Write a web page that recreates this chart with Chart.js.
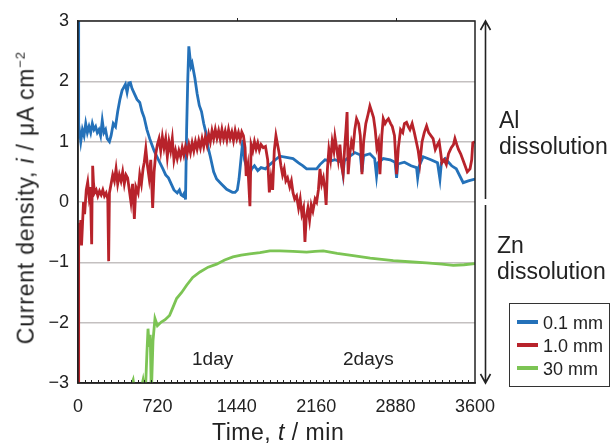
<!DOCTYPE html>
<html>
<head>
<meta charset="utf-8">
<script src="https://cdn.jsdelivr.net/npm/chart.js@4.4.0/dist/chart.umd.min.js"></script>
<style>
  html, body { margin: 0; padding: 0; background: #fff; }
  #wrap { position: relative; width: 611px; height: 444px; font-family: "Liberation Sans", Arial, sans-serif; color: #222; }
  #chart { position: absolute; left: 0; top: 0; }
  .lbl { position: absolute; white-space: nowrap; line-height: 1; }
  .note { font-size: 23px; line-height: 26px; }
  .legend { position: absolute; left: 509px; top: 303px; width: 99px; height: 82px; border: 1px solid #333; background: #fff; }
  .legend div { position: absolute; left: 7px; font-size: 18px; line-height: 1; white-space: nowrap; }
  .legend span.sw { display: inline-block; width: 21px; height: 4px; vertical-align: middle; margin-right: 5px; position: relative; top: -2px; }
</style>
</head>
<body>
<div id="wrap">
  <canvas id="chart" width="611" height="444"></canvas>

  <div class="lbl" id="ytitle" style="font-size:23px; letter-spacing:0.8px;">Current density, <i>i</i> / μA cm<sup style="font-size:13px;">−2</sup></div>
  <div class="lbl" style="left:212px; top:421px; font-size:23px; letter-spacing:0.5px;">Time, <i>t</i> / min</div>

  <div class="lbl note" style="left:499px; top:107px;">Al<br>dissolution</div>
  <div class="lbl note" style="left:497px; top:232px;">Zn<br>dissolution</div>
  <div class="lbl" style="left:192px; top:349px; font-size:19px;">1day</div>
  <div class="lbl" style="left:343px; top:349px; font-size:19px;">2days</div>

  <div class="legend" id="legend"></div>
</div>

<script>
// x axis ticks (min)
const xTicks = [0, 720, 1440, 2160, 2880, 3600];

// 0.1 mm
const blueT = [0, 6, 15, 25, 40, 55, 70, 85, 100, 115, 130, 145, 160, 175, 190, 205, 220, 235, 250, 265, 285, 300, 320, 340, 360, 380, 400, 415, 430, 445, 460, 475, 490, 510, 535, 560, 580, 600, 625, 650, 670, 690, 713, 740, 770, 795, 820, 845, 870, 900, 920, 935, 950, 965, 975, 985, 995, 1005, 1015, 1025, 1035, 1045, 1060, 1080, 1100, 1120, 1140, 1160, 1180, 1200, 1230, 1257, 1300, 1348, 1400, 1424, 1445, 1460, 1480, 1495, 1510, 1530, 1555, 1575, 1600, 1630, 1660, 1700, 1740, 1790, 1830, 1890, 1950, 2000, 2040, 2073, 2120, 2164, 2194, 2240, 2290, 2330, 2390, 2404, 2415, 2460, 2510, 2560, 2575, 2590, 2647, 2690, 2707, 2720, 2768, 2830, 2875, 2889, 2900, 2960, 3020, 3070, 3080, 3095, 3130, 3200, 3260, 3282, 3295, 3330, 3388, 3430, 3493, 3540, 3600];
const blueV = [3.2, 1.05, 1.15, 1.0, 1.2, 1.1, 1.3, 1.15, 1.25, 1.15, 1.3, 1.2, 1.25, 1.15, 1.2, 1.1, 1.35, 1.15, 1.2, 1.05, 1.0, 1.1, 1.3, 1.25, 1.5, 1.7, 1.85, 1.9, 1.95, 1.82, 1.97, 1.98, 1.88, 1.8, 1.7, 1.65, 1.5, 1.4, 1.2, 1.05, 0.95, 0.85, 0.76, 0.66, 0.55, 0.45, 0.4, 0.3, 0.2, 0.15, 0.2, 0.12, 0.1, 0.15, 0.04, 1.2, 2.0, 2.58, 2.4, 2.25, 2.3, 2.2, 2.05, 1.8, 1.6, 1.5, 1.3, 1.15, 0.9, 0.75, 0.5, 0.38, 0.3, 0.21, 0.16, 0.16, 0.2, 0.38, 0.75, 1.03, 0.7, 0.57, 0.45, 0.55, 0.6, 0.52, 0.57, 0.55, 0.62, 0.7, 0.76, 0.74, 0.72, 0.65, 0.6, 0.55, 0.55, 0.55, 0.62, 0.7, 0.68, 0.7, 0.66, 0.46, 0.68, 0.75, 0.82, 0.78, 0.5, 0.77, 0.8, 0.72, 0.43, 0.65, 0.72, 0.7, 0.66, 0.4, 0.63, 0.66, 0.6, 0.57, 0.4, 0.6, 0.75, 0.7, 0.65, 0.38, 0.65, 0.72, 0.6, 0.55, 0.32, 0.35, 0.38];

// 1.0 mm
const redT = [0, 6, 15, 25, 32, 40, 50, 60, 75, 88, 100, 112, 124, 128, 133, 140, 150, 165, 180, 195, 210, 225, 240, 255, 270, 278, 285, 300, 315, 330, 345, 360, 375, 390, 405, 420, 435, 450, 465, 480, 495, 511, 525, 545, 560, 575, 590, 601, 615, 630, 645, 660, 677, 690, 705, 720, 735, 750, 765, 780, 795, 810, 825, 840, 855, 870, 885, 900, 915, 930, 945, 960, 975, 990, 1005, 1020, 1035, 1050, 1065, 1080, 1095, 1110, 1125, 1140, 1155, 1170, 1185, 1200, 1215, 1230, 1245, 1260, 1275, 1290, 1305, 1320, 1335, 1350, 1365, 1380, 1395, 1410, 1425, 1440, 1455, 1470, 1485, 1500, 1515, 1525, 1540, 1559, 1570, 1585, 1600, 1615, 1630, 1645, 1660, 1680, 1700, 1720, 1735, 1750, 1765, 1780, 1795, 1810, 1825, 1840, 1855, 1870, 1885, 1900, 1920, 1935, 1950, 1965, 1982, 2000, 2015, 2030, 2045, 2058, 2070, 2085, 2100, 2115, 2130, 2150, 2164, 2180, 2194, 2210, 2225, 2240, 2250, 2262, 2275, 2290, 2305, 2320, 2330, 2345, 2360, 2375, 2390, 2404, 2418, 2430, 2440, 2450, 2465, 2480, 2495, 2510, 2526, 2545, 2560, 2575, 2590, 2610, 2630, 2647, 2665, 2680, 2695, 2710, 2725, 2738, 2755, 2768, 2785, 2800, 2815, 2835, 2850, 2870, 2889, 2905, 2925, 2945, 2960, 2979, 2995, 3010, 3030, 3050, 3070, 3085, 3100, 3120, 3140, 3161, 3180, 3200, 3220, 3240, 3260, 3275, 3290, 3300, 3320, 3340, 3360, 3385, 3405, 3418, 3435, 3450, 3470, 3490, 3510, 3530, 3555, 3570, 3580, 3600];
const redV = [-3.1, -0.35, -0.6, -0.3, -0.72, -0.4, 0.0, -0.2, 0.2, 0.33, 0.1, 0.25, -0.7, 0.15, 0.6, 0.33, 0.15, 0.2, 0.1, 0.18, 0.12, 0.2, 0.1, 0.15, 0.05, -0.98, 0.15, 0.3, 0.45, 0.35, 0.55, 0.3, 0.45, 0.35, 0.5, 0.3, 0.45, 0.4, 0.2, 0.0, 0.3, -0.28, 0.25, 0.15, 0.45, 0.3, 0.55, 0.66, 0.88, 0.6, 0.4, 0.7, -0.1, 0.5, 0.8, 0.95, 1.05, 0.85, 1.08, 0.9, 1.05, 0.75, 1.0, 0.85, 1.05, 0.7, 0.85, 0.72, 0.85, 0.75, 0.9, 0.78, 0.92, 0.8, 0.95, 0.82, 0.98, 0.85, 1.0, 0.88, 1.02, 0.9, 1.05, 0.92, 1.08, 0.95, 1.12, 1.0, 1.18, 1.05, 1.2, 1.06, 1.18, 1.04, 1.2, 1.05, 1.17, 1.03, 1.2, 1.06, 1.16, 1.02, 1.18, 1.05, 1.15, 1.03, 1.16, 1.1, 0.9, 0.43, 0.6, -0.07, 0.95, 0.85, 1.0, 0.88, 0.98, 0.86, 0.95, 0.9, 0.92, 0.7, 0.16, 0.4, 0.2, 0.85, 1.1, 0.95, 0.8, 0.6, 0.45, 0.55, 0.35, 0.4, 0.25, 0.35, 0.15, 0.05, 0.1, -0.1, 0.05, -0.2, -0.1, -0.66, -0.25, -0.1, -0.3, -0.05, -0.15, 0.05, 0.0, 0.2, 0.55, 0.3, 0.4, 0.2, -0.05, 0.55, 0.87, 0.7, 1.0, 0.85, 1.08, 0.9, 0.7, 0.95, 0.6, 0.46, 0.9, 1.2, 1.49, 0.46, 0.8, 1.0, 0.9, 1.2, 1.38, 1.3, 1.1, 0.46, 1.0, 1.3, 1.45, 1.59, 1.49, 1.4, 1.2, 0.9, 1.0, 0.46, 1.1, 1.38, 1.3, 1.35, 1.38, 1.3, 1.25, 1.1, 0.46, 0.9, 1.2, 1.15, 1.3, 1.32, 1.25, 1.2, 1.3, 1.15, 0.98, 0.85, 0.65, 1.0, 1.15, 1.26, 1.15, 1.1, 1.05, 0.87, 0.95, 1.0, 0.8, 0.65, 0.7, 0.62, 0.8, 0.9, 0.95, 1.05, 0.95, 0.87, 0.8, 0.7, 0.6, 0.5, 0.55, 0.7, 0.98, 1.0];

// 30 mm
const greenT = [0, 470, 500, 520, 560, 590, 610, 625, 635, 645, 655, 665, 680, 698, 720, 755, 790, 830, 860, 894, 940, 985, 1040, 1106, 1180, 1257, 1330, 1405, 1480, 1557, 1650, 1740, 1831, 1950, 2073, 2150, 2224, 2350, 2495, 2650, 2859, 3000, 3161, 3300, 3403, 3500, 3600];
const greenV = [-3.6, -3.1, -2.95, -3.2, -3.2, -2.95, -3.2, -2.5, -2.1, -2.4, -2.2, -3.2, -2.3, -1.93, -2.05, -1.99, -1.95, -1.88, -1.75, -1.6, -1.5, -1.38, -1.25, -1.16, -1.08, -1.03, -0.96, -0.91, -0.88, -0.86, -0.84, -0.81, -0.81, -0.82, -0.83, -0.82, -0.81, -0.85, -0.89, -0.93, -0.97, -0.99, -1.01, -1.03, -1.05, -1.04, -1.02];

const FONT = '"Liberation Sans", Arial, sans-serif';

function pts(ts, vs) {
  return ts.map((t, i) => ({ x: t, y: vs[i] }));
}

const series = [
  { label: '0.1 mm', color: '#2471b9', data: pts(blueT, blueV), order: 1 },
  { label: '1.0 mm', color: '#b8232b', data: pts(redT, redV), order: 0 },
  { label: '30 mm', color: '#7cc454', data: pts(greenT, greenV), order: 2 }
];

// frame, arrows, small ticks
const extras = {
  id: 'extras',
  afterDraw(chart) {
    const ctx = chart.ctx;
    const a = chart.chartArea;
    const xs = chart.scales.x;
    const ys = chart.scales.y;
    ctx.save();
    ctx.strokeStyle = '#222';
    ctx.lineWidth = 1.5;
    ctx.strokeRect(a.left, a.top, a.right - a.left, a.bottom - a.top);

    // minor ticks on bottom, every 60 min
    ctx.lineWidth = 1;
    ctx.beginPath();
    for (let t = 60; t < 3600; t += 60) {
      const px = Math.round(xs.getPixelForValue(t)) + 0.5;
      ctx.moveTo(px, a.bottom);
      ctx.lineTo(px, a.bottom - 3);
    }
    // day marks on top
    [1440, 2880].forEach(t => {
      const px = Math.round(xs.getPixelForValue(t)) + 0.5;
      ctx.moveTo(px, a.top);
      ctx.lineTo(px, a.top - 3);
    });
    ctx.stroke();

    // double arrows on the right
    const ax = a.right + 10.5;
    const top = ys.getPixelForValue(3);
    const bot = ys.getPixelForValue(-3);
    const mid1 = ys.getPixelForValue(0.05);
    const mid2 = ys.getPixelForValue(-0.05);
    ctx.lineWidth = 1.6;
    ctx.beginPath();
    ctx.moveTo(ax, top); ctx.lineTo(ax, mid1);
    ctx.moveTo(ax - 5, top + 9); ctx.lineTo(ax, top); ctx.lineTo(ax + 5, top + 9);
    ctx.moveTo(ax, mid2); ctx.lineTo(ax, bot);
    ctx.moveTo(ax - 5, bot - 9); ctx.lineTo(ax, bot); ctx.lineTo(ax + 5, bot - 9);
    ctx.stroke();
    ctx.restore();
  }
};

const chart = new Chart(document.getElementById('chart').getContext('2d'), {
  type: 'line',
  data: {
    datasets: series.map(s => ({
      label: s.label,
      data: s.data,
      borderColor: s.color,
      backgroundColor: s.color,
      borderWidth: 2.8,
      pointRadius: 0,
      tension: 0,
      order: s.order
    }))
  },
  options: {
    responsive: false,
    animation: false,
    layout: { padding: { top: 21, right: 136, left: 0, bottom: 0 } },
    plugins: { legend: { display: false }, tooltip: { enabled: false } },
    scales: {
      x: {
        type: 'linear',
        min: 0,
        max: 3600,
        afterBuildTicks: scale => { scale.ticks = xTicks.map(v => ({ value: v })); },
        afterFit: scale => { scale.height = 61; },
        ticks: {
          font: { family: FONT, size: 18 },
          color: '#222',
          padding: 13,
          maxRotation: 0,
          callback: v => String(v)
        },
        grid: { display: false, drawTicks: false },
        border: { display: true, color: '#222', width: 1.5 }
      },
      y: {
        min: -3,
        max: 3,
        afterFit: scale => { scale.width = 78; },
        ticks: {
          stepSize: 1,
          font: { family: FONT, size: 18 },
          color: '#222',
          padding: 9,
          callback: v => v < 0 ? '\u2212' + Math.abs(v) : String(v)
        },
        grid: { color: '#c4c0c0', lineWidth: 1.5, drawTicks: false },
        border: { display: true, color: '#222', width: 1.5 }
      }
    }
  },
  plugins: [extras]
});

// legend
const legend = document.getElementById('legend');
series.forEach((s, i) => {
  const row = document.createElement('div');
  row.style.top = (10 + i * 23) + 'px';
  row.innerHTML = `<span class="sw" style="background:${s.color}"></span>${s.label}`;
  legend.appendChild(row);
});

// rotated y title
const yt = document.getElementById('ytitle');
yt.style.left = (25 - yt.offsetWidth / 2) + 'px';
yt.style.top = (198 - yt.offsetHeight / 2) + 'px';
yt.style.transform = 'rotate(-90deg)';
</script>
</body>
</html>
